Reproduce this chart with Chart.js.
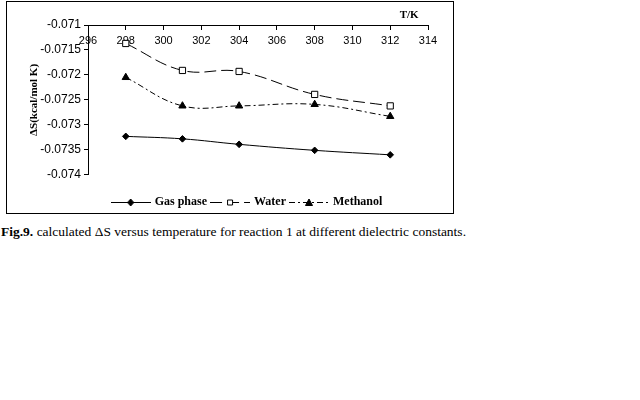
<!DOCTYPE html>
<html>
<head>
<meta charset="utf-8">
<script src="https://cdn.jsdelivr.net/npm/chart.js@4.4.1/dist/chart.umd.min.js"></script>
<style>
  body { margin: 0; width: 640px; height: 400px; background: #fff; position: relative; }
  #box { position: absolute; left: 6px; top: 1px; width: 446px; height: 211px; border: 1px solid #000; }
  #caption { position: absolute; left: 1px; top: 224px; font: 13.5px "Liberation Serif", serif; white-space: nowrap; color: #000; }
</style>
</head>
<body>
<div id="box"><canvas id="c" width="446" height="211"></canvas></div>
<div id="caption"><b>Fig.9.</b> calculated ΔS versus temperature for reaction 1 at different dielectric constants.</div>
<script>
// data
const temps = [298, 301, 304, 308, 312];
const gasPhase = [-0.07323, -0.07328, -0.07339, -0.07351, -0.07360];
const water = [-0.07137, -0.07191, -0.07193, -0.07239, -0.07262];
const methanol = [-0.07205, -0.07262, -0.07262, -0.07259, -0.07283];
const seriesNames = ['Gas phase', 'Water', 'Methanol'];
const xTickValues = [296, 298, 300, 302, 304, 306, 308, 310, 312, 314];
const yTickValues = [-0.071, -0.0715, -0.072, -0.0725, -0.073, -0.0735, -0.074];

const serif = '"Liberation Serif", "Times New Roman", serif';
const sans = '"Liberation Sans", Arial, sans-serif';

// small line+marker pictures for the legend
function legendIcon(dash, marker, fill) {
    const cv = document.createElement('canvas');
    cv.width = 40; cv.height = 10;
    const g = cv.getContext('2d');
    g.strokeStyle = '#000'; g.lineWidth = 1;
    g.setLineDash(dash);
    g.beginPath(); g.moveTo(0, 5.5); g.lineTo(40, 5.5); g.stroke();
    g.setLineDash([]);
    g.fillStyle = fill;
    g.beginPath();
    if (marker === 'diamond') { g.moveTo(20, 2); g.lineTo(23, 5.5); g.lineTo(20, 9); g.lineTo(17, 5.5); g.closePath(); }
    if (marker === 'square') { g.rect(17.5, 3, 5, 5); }
    if (marker === 'triangle') { g.moveTo(20, 2); g.lineTo(23.5, 8.5); g.lineTo(16.5, 8.5); g.closePath(); }
    g.fill(); g.stroke();
    return cv;
}

const styles = [
    { dash: [], point: 'rectRot', radius: 3.3, fill: '#000', icon: legendIcon([], 'diamond', '#000') },
    { dash: [12, 5], point: 'rect', radius: 4.4, fill: '#fff', icon: legendIcon([12, 5], 'square', '#fff') },
    { dash: [6, 3, 2, 3], point: 'triangle', radius: 4.2, fill: '#000', icon: legendIcon([6, 3, 2, 3], 'triangle', '#000') }
];

const seriesValues = [gasPhase, water, methanol];

const tkLabel = {
    id: 'tkLabel',
    afterDraw(chart) {
        const { ctx, chartArea, scales } = chart;
        ctx.save();
        ctx.font = 'bold 11px ' + serif;
        ctx.fillStyle = '#000';
        ctx.textAlign = 'center';
        ctx.textBaseline = 'middle';
        ctx.fillText('T/K', scales.x.getPixelForValue(313), chartArea.top - 10);
        ctx.restore();
    }
};

new Chart(document.getElementById('c'), {
    type: 'line',
    data: {
        datasets: seriesNames.map((name, i) => ({
            label: name,
            data: temps.map((t, j) => ({ x: t, y: seriesValues[i][j] })),
            borderColor: '#000',
            borderWidth: 1,
            borderDash: styles[i].dash,
            tension: 0.4,
            pointStyle: styles[i].point,
            pointRadius: styles[i].radius,
            pointBackgroundColor: styles[i].fill,
            pointBorderColor: '#000',
            pointBorderWidth: 1
        }))
    },
    options: {
        responsive: false,
        animation: false,
        layout: { padding: { top: 23, right: 25, left: 0, bottom: -5 } },
        scales: {
            x: {
                type: 'linear',
                position: { y: -0.071 },
                min: 296, max: 314,
                afterBuildTicks: s => { s.ticks = xTickValues.map(v => ({ value: v })); },
                grid: { drawOnChartArea: false, tickLength: 4, color: '#000' },
                border: { color: '#000', width: 1 },
                ticks: { color: '#000', font: { family: sans, size: 11 }, padding: 5, maxRotation: 0 }
            },
            y: {
                type: 'linear',
                position: 'left',
                min: -0.074, max: -0.071,
                afterBuildTicks: s => { s.ticks = yTickValues.map(v => ({ value: v })); },
                afterFit: s => { s.width = 81; },
                grid: { drawOnChartArea: false, tickLength: 4, color: '#000' },
                border: { color: '#000', width: 1 },
                ticks: {
                    color: '#000', font: { family: sans, size: 12 }, padding: 3,
                    callback: v => String(Number(v.toFixed(4)))
                },
                title: { display: true, text: 'ΔS(kcal/mol K)', color: '#000', font: { family: serif, size: 11, weight: 'bold' }, padding: { top: 21, bottom: 0 } }
            }
        },
        plugins: {
            tooltip: { enabled: false },
            legend: {
                position: 'bottom',
                fullSize: false,
                title: { display: true, text: ' ', font: { size: 1 }, padding: { top: 15, bottom: 0 } },
                labels: {
                    color: '#000',
                    font: { family: serif, size: 12, weight: 'bold' },
                    usePointStyle: true,
                    pointStyleWidth: 36,
                    padding: 5,
                    generateLabels: chart => chart.data.datasets.map((d, i) => ({
                        // trailing spaces on the last label pull the centred row left like the original
                        text: i === 2 ? d.label + '       ' : d.label,
                        pointStyle: styles[i].icon,
                        datasetIndex: i,
                        fontColor: '#000',
                        lineWidth: 0
                    }))
                }
            }
        }
    },
    plugins: [tkLabel]
});
</script>
</body>
</html>
